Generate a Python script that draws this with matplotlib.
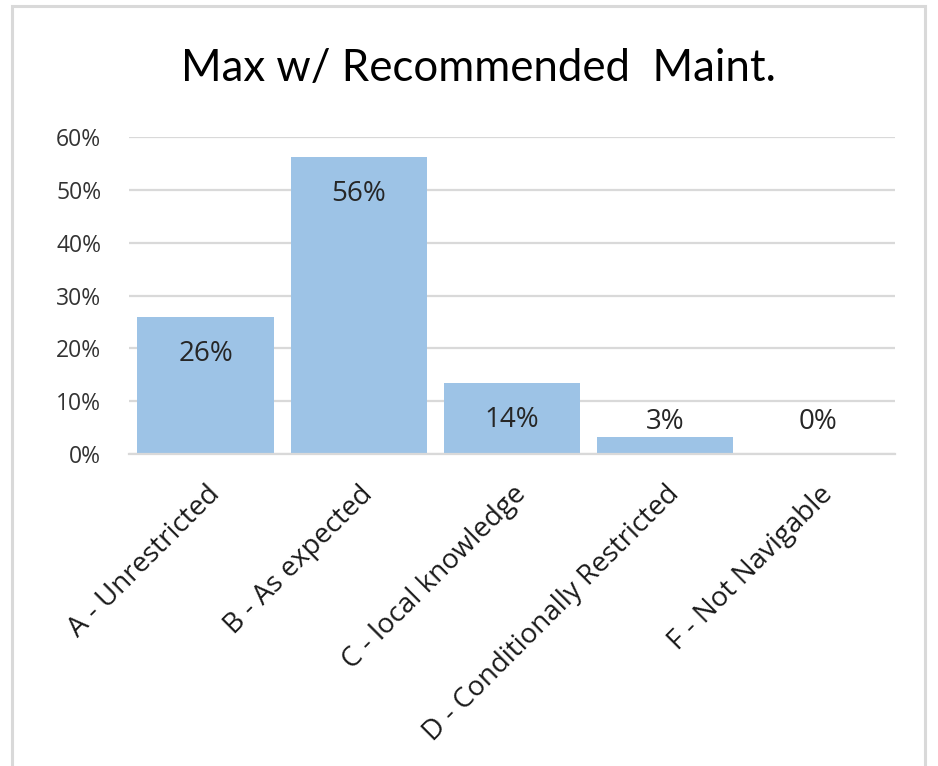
import matplotlib.pyplot as plt
from matplotlib.patches import Rectangle

categories = ["A - Unrestricted", "B - As expected", "C - local knowledge",
              "D - Conditionally Restricted", "F - Not Navigable"]
values = [0.26, 0.563, 0.134, 0.032, 0.0]
labels = ["26%", "56%", "14%", "3%", "0%"]
yticks = [0, 0.1, 0.2, 0.3, 0.4, 0.5, 0.6]

fig = plt.figure(figsize=(9.38, 7.66), dpi=100)
ax = fig.add_axes([0.1375, 0.4073, 0.8166, 0.4138])

# outer chart frame
fig.patches.append(Rectangle((0.0128, -0.05), 0.9735, 1.042, transform=fig.transFigure,
                             fill=False, edgecolor="#d9d9d9", linewidth=2.2))

x = range(len(categories))
ax.bar(x, values, width=0.89, color="#9dc3e6", zorder=2)

for xi, v, lab in zip(x, values, labels):
    ypos = max(v - 0.07, 0.06)
    ax.text(xi, ypos, lab, ha="center", va="center", fontsize=20,
            family="Open Sans", color="#262626", zorder=3)

ax.set_xlim(-0.5, len(categories) - 0.5)
ax.set_ylim(0, 0.6)
ax.set_yticks(yticks)
ax.set_yticklabels([f"{int(round(t * 100))}%" for t in yticks],
                   fontsize=16.5, family="Open Sans", color="#333333")
ax.set_xticks(list(x))
ax.set_xticklabels(categories, rotation=45, ha="right", rotation_mode="anchor",
                   fontsize=20, family="Open Sans", color="#1a1a1a")
ax.tick_params(axis="both", length=0)
ax.tick_params(axis="y", pad=20)
ax.tick_params(axis="x", pad=19)

ax.grid(axis="y", color="#d9d9d9", linewidth=1.6, zorder=0)
ax.set_axisbelow(True)
for s in ["left", "right", "top"]:
    ax.spines[s].set_visible(False)
ax.spines["bottom"].set_color("#d9d9d9")
ax.spines["bottom"].set_linewidth(1.6)

fig.text(0.51, 0.91, "Max w/ Recommended  Maint.", ha="center", va="center",
         fontsize=31.5, family="Lato", color="#000000")

fig.savefig("out.png", dpi=100)
